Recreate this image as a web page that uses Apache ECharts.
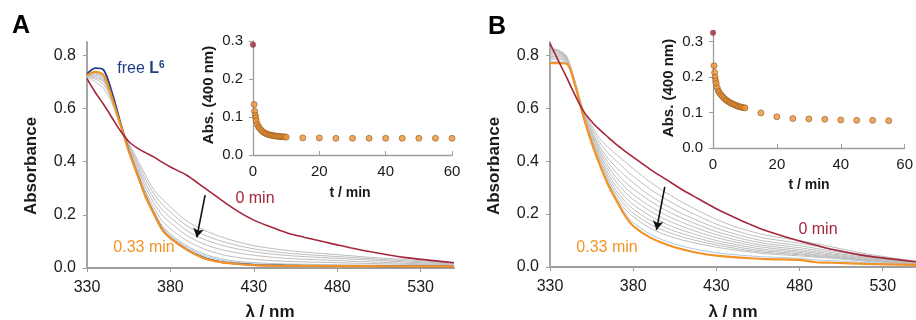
<!DOCTYPE html>
<html>
<head>
<meta charset="utf-8">
<script src="https://cdn.jsdelivr.net/npm/echarts@6/dist/echarts.min.js"></script>
<style>
  html, body { margin: 0; padding: 0; background: #fff; }
  #chart { width: 916px; height: 320px; }
</style>
</head>
<body>
<div id="chart"></div>
<script>
// wavelength grid (nm) shared by every spectrum
const WL = [330, 335, 340, 345, 350, 355, 360, 365, 370, 375, 380, 390, 400, 410, 420, 430, 440, 450, 460, 480, 490, 500, 520, 550];

// panel A spectra
const A_RED = [0.712, 0.66, 0.615, 0.565, 0.516, 0.476, 0.452, 0.434, 0.418, 0.398, 0.38, 0.348, 0.303, 0.258, 0.215, 0.18, 0.155, 0.132, 0.116, 0.087, 0.073, 0.061, 0.04, 0.02];
const A_BLUE = [0.73, 0.752, 0.745, 0.66, 0.548, 0.442, 0.356, 0.271, 0.206, 0.146, 0.113, 0.069, 0.039, 0.023, 0.016, 0.012, 0.01, 0.009, 0.008, 0.007, 0.007, 0.007, 0.006, 0.006];
const A_ORANGE = [0.725, 0.738, 0.725, 0.64, 0.54, 0.44, 0.355, 0.27, 0.205, 0.145, 0.112, 0.068, 0.037, 0.022, 0.015, 0.011, 0.009, 0.008, 0.008, 0.007, 0.007, 0.007, 0.006, 0.006];
const A_LIGHTBLUE = [0.726, 0.732, 0.718, 0.642, 0.54, 0.443, 0.36, 0.277, 0.212, 0.155, 0.122, 0.077, 0.047, 0.03, 0.021, 0.016, 0.014, 0.012, 0.011, 0.01, 0.01, 0.009, 0.008, 0.007];
const A_GREY = [
  [0.718, 0.70, 0.675, 0.62, 0.535, 0.47, 0.41, 0.35, 0.295, 0.26, 0.23, 0.176, 0.143, 0.118, 0.099, 0.084, 0.074, 0.066, 0.06, 0.05, 0.045, 0.04, 0.032, 0.018],
  [0.72, 0.71, 0.69, 0.63, 0.54, 0.465, 0.40, 0.335, 0.28, 0.24, 0.21, 0.158, 0.125, 0.102, 0.085, 0.072, 0.063, 0.056, 0.051, 0.043, 0.039, 0.035, 0.027, 0.016],
  [0.722, 0.715, 0.70, 0.635, 0.54, 0.46, 0.39, 0.32, 0.262, 0.22, 0.19, 0.14, 0.108, 0.087, 0.072, 0.061, 0.053, 0.047, 0.043, 0.036, 0.033, 0.03, 0.023, 0.014],
  [0.724, 0.72, 0.705, 0.64, 0.54, 0.455, 0.38, 0.305, 0.245, 0.20, 0.17, 0.122, 0.09, 0.07, 0.057, 0.048, 0.041, 0.036, 0.033, 0.028, 0.025, 0.023, 0.018, 0.012],
  [0.725, 0.725, 0.71, 0.64, 0.54, 0.45, 0.37, 0.29, 0.228, 0.178, 0.148, 0.102, 0.072, 0.052, 0.04, 0.033, 0.028, 0.025, 0.023, 0.02, 0.018, 0.017, 0.014, 0.01],
  [0.726, 0.73, 0.715, 0.64, 0.54, 0.445, 0.362, 0.28, 0.215, 0.16, 0.128, 0.083, 0.053, 0.035, 0.025, 0.02, 0.017, 0.015, 0.014, 0.012, 0.011, 0.011, 0.009, 0.008]
];

// panel B spectra
const B_RED = [0.845, 0.78, 0.716, 0.65, 0.59, 0.55, 0.518, 0.49, 0.462, 0.438, 0.415, 0.37, 0.33, 0.29, 0.255, 0.22, 0.19, 0.162, 0.137, 0.098, 0.082, 0.066, 0.042, 0.02];
const B_ORANGE = [0.77, 0.77, 0.768, 0.688, 0.57, 0.47, 0.385, 0.31, 0.25, 0.195, 0.155, 0.112, 0.085, 0.066, 0.052, 0.043, 0.037, 0.033, 0.03, 0.027, 0.018, 0.016, 0.012, 0.008];
const B_LIGHTBLUE = [0.775, 0.776, 0.77, 0.689, 0.571, 0.472, 0.387, 0.315, 0.256, 0.205, 0.168, 0.125, 0.097, 0.078, 0.064, 0.054, 0.047, 0.042, 0.038, 0.033, 0.027, 0.024, 0.017, 0.01];
const B_GREY = [
  [0.825, 0.82, 0.795, 0.70, 0.595, 0.535, 0.485, 0.452, 0.425, 0.398, 0.372, 0.322, 0.28, 0.243, 0.21, 0.18, 0.155, 0.136, 0.12, 0.10, 0.088, 0.075, 0.05, 0.022],
  [0.822, 0.818, 0.795, 0.70, 0.59, 0.525, 0.47, 0.43, 0.40, 0.37, 0.343, 0.295, 0.255, 0.22, 0.19, 0.162, 0.14, 0.122, 0.108, 0.09, 0.078, 0.067, 0.045, 0.02],
  [0.82, 0.816, 0.793, 0.70, 0.588, 0.515, 0.455, 0.41, 0.375, 0.345, 0.318, 0.27, 0.232, 0.20, 0.172, 0.147, 0.127, 0.11, 0.097, 0.081, 0.07, 0.06, 0.04, 0.018],
  [0.815, 0.812, 0.79, 0.70, 0.585, 0.508, 0.445, 0.395, 0.355, 0.322, 0.295, 0.25, 0.213, 0.183, 0.157, 0.134, 0.116, 0.10, 0.088, 0.073, 0.063, 0.054, 0.036, 0.017],
  [0.81, 0.808, 0.787, 0.698, 0.582, 0.50, 0.435, 0.38, 0.337, 0.302, 0.274, 0.23, 0.195, 0.167, 0.143, 0.122, 0.105, 0.091, 0.08, 0.066, 0.057, 0.049, 0.033, 0.016],
  [0.805, 0.805, 0.785, 0.697, 0.58, 0.494, 0.425, 0.366, 0.32, 0.283, 0.255, 0.212, 0.178, 0.152, 0.13, 0.111, 0.096, 0.083, 0.073, 0.06, 0.052, 0.045, 0.03, 0.015],
  [0.80, 0.80, 0.782, 0.695, 0.578, 0.488, 0.415, 0.352, 0.303, 0.265, 0.236, 0.194, 0.162, 0.138, 0.118, 0.10, 0.087, 0.075, 0.066, 0.055, 0.047, 0.041, 0.028, 0.014],
  [0.795, 0.795, 0.78, 0.694, 0.576, 0.483, 0.406, 0.34, 0.288, 0.248, 0.219, 0.177, 0.147, 0.125, 0.107, 0.091, 0.079, 0.068, 0.06, 0.05, 0.043, 0.038, 0.026, 0.013],
  [0.79, 0.79, 0.777, 0.692, 0.574, 0.478, 0.398, 0.33, 0.275, 0.234, 0.204, 0.162, 0.134, 0.113, 0.097, 0.083, 0.072, 0.062, 0.055, 0.046, 0.04, 0.035, 0.024, 0.012],
  [0.785, 0.785, 0.774, 0.69, 0.572, 0.474, 0.39, 0.32, 0.263, 0.22, 0.19, 0.148, 0.12, 0.101, 0.087, 0.075, 0.065, 0.057, 0.05, 0.042, 0.037, 0.033, 0.022, 0.011]
];

// insets: absorbance at 400 nm vs time (min)
const A_T = [0.33, 0.5, 0.67, 0.83, 1, 1.33, 1.67, 2, 2.5, 3, 3.5, 4, 4.5, 5, 5.5, 6, 6.5, 7, 7.5, 8, 8.5, 9, 9.5, 10, 15, 20, 25, 30, 35, 40, 45, 50, 55, 60];
const A_ABS = [0.133, 0.115, 0.105, 0.098, 0.09, 0.08, 0.074, 0.07, 0.065, 0.061, 0.058, 0.056, 0.054, 0.053, 0.052, 0.051, 0.05, 0.05, 0.049, 0.049, 0.048, 0.048, 0.048, 0.047, 0.045, 0.045, 0.044, 0.044, 0.044, 0.044, 0.044, 0.044, 0.044, 0.044];
const A_START = [0, 0.29];
const B_T = [0.33, 0.5, 0.67, 0.83, 1, 1.33, 1.67, 2, 2.5, 3, 3.5, 4, 4.5, 5, 5.5, 6, 6.5, 7, 7.5, 8, 8.5, 9, 9.5, 10, 15, 20, 25, 30, 35, 40, 45, 50, 55];
const B_ABS = [0.232, 0.213, 0.2, 0.19, 0.182, 0.17, 0.161, 0.156, 0.15, 0.145, 0.14, 0.136, 0.133, 0.13, 0.127, 0.125, 0.123, 0.121, 0.119, 0.117, 0.116, 0.115, 0.114, 0.113, 0.099, 0.088, 0.083, 0.082, 0.081, 0.079, 0.078, 0.078, 0.077];
const B_START = [0, 0.325];

// arrows (data coords: nm, absorbance)
const ARROW_A = [[400.8, 0.274], [395.8, 0.115]];
const ARROW_B = [[399, 0.303], [394, 0.14]];

// tick labels
const WL_TICKS = [330, 380, 430, 480, 530];
const ABS_TICKS = [0, 0.2, 0.4, 0.6, 0.8];
const T_TICKS = [0, 20, 40, 60];
const INSET_TICKS = [0, 0.1, 0.2, 0.3];

const FONT = '"Liberation Sans", Arial, sans-serif';
const AXIS_GREY = '#9d9d9d';
const RED = '#a3263b';
const ORANGE = '#f39226';
const BLUE = '#1f3e82';

const pairs = (xs, ys) => xs.map((x, i) => [x, ys[i]]);

function valueAxis(gridIndex, min, max, ticks, opts) {
  return {
    type: 'value',
    gridIndex,
    min,
    max,
    axisLine: { show: true, lineStyle: { color: AXIS_GREY, width: opts.lineWidth } },
    axisTick: { show: true, customValues: ticks, inside: !!opts.inside, length: 4, lineStyle: { color: AXIS_GREY, width: 1 } },
    axisLabel: {
      customValues: ticks,
      color: '#1a1a1a',
      fontSize: opts.fontSize,
      fontFamily: FONT,
      margin: opts.margin,
      formatter: opts.fmt
    },
    splitLine: { show: false }
  };
}

const fix1 = v => v.toFixed(1);
const plain = v => String(v);

function spectrum(xi, values, color, width, z, extra) {
  return Object.assign({
    type: 'line',
    xAxisIndex: xi,
    yAxisIndex: xi,
    data: pairs(WL, values),
    showSymbol: false,
    smooth: 0.3,
    lineStyle: { color, width },
    z,
    silent: true
  }, extra || {});
}

function arrow(points) {
  return {
    silent: true,
    symbol: ['none', 'arrow'],
    symbolSize: [8, 9],
    label: { show: false },
    lineStyle: { color: '#111', width: 1.6, type: 'solid' },
    data: [[{ coord: points[0] }, { coord: points[1] }]]
  };
}

function insetSeries(xi, ts, abs, start) {
  return [
    {
      type: 'scatter',
      xAxisIndex: xi,
      yAxisIndex: xi,
      data: pairs(ts, abs),
      symbolSize: 6,
      itemStyle: { color: '#ee9233', borderColor: '#8f5a22', borderWidth: 0.8 },
      z: 5
    },
    {
      type: 'scatter',
      xAxisIndex: xi,
      yAxisIndex: xi,
      data: [start],
      symbolSize: 6,
      itemStyle: { color: '#9c2a3c' },
      z: 6
    }
  ];
}

function text(x, y, str, size, color, weight, rotate) {
  return {
    type: 'text',
    x, y,
    rotation: rotate ? Math.PI / 2 : 0,
    style: {
      text: str,
      fill: color,
      font: (weight || 'normal') + ' ' + size + 'px ' + FONT,
      align: 'center',
      verticalAlign: 'middle'
    }
  };
}

const series = [];
A_GREY.forEach(g => series.push(spectrum(0, g, '#bdbdbd', 1, 2)));
series.push(spectrum(0, A_LIGHTBLUE, '#a9c8e3', 1, 3));
series.push(spectrum(0, A_BLUE, BLUE, 1.8, 4));
series.push(spectrum(0, A_ORANGE, ORANGE, 2.2, 5));
series.push(spectrum(0, A_RED, RED, 1.6, 6, { markLine: arrow(ARROW_A) }));
series.push(...insetSeries(1, A_T, A_ABS, A_START));

B_GREY.forEach(g => series.push(spectrum(2, g, '#bdbdbd', 1, 2)));
series.push(spectrum(2, B_LIGHTBLUE, '#a9c8e3', 1, 3));
series.push(spectrum(2, B_ORANGE, ORANGE, 2.2, 5));
series.push(spectrum(2, B_RED, RED, 1.6, 6, { markLine: arrow(ARROW_B) }));
series.push(...insetSeries(3, B_T, B_ABS, B_START));

const mainX = { lineWidth: 1.8, fontSize: 16, margin: 12, fmt: plain };
const mainY = { lineWidth: 1.8, fontSize: 16, margin: 11, fmt: fix1 };
const insetX = { lineWidth: 1.3, fontSize: 15, margin: 9, fmt: plain, inside: true };
const insetY = { lineWidth: 1.3, fontSize: 15, margin: 10, fmt: fix1 };

const option = {
  backgroundColor: '#fff',
  animation: false,
  grid: [
    { left: 87, top: 42, width: 367, height: 226 },
    { left: 253, top: 41, width: 199, height: 114 },
    { left: 550, top: 42, width: 366, height: 225 },
    { left: 713, top: 31, width: 197, height: 117 }
  ],
  xAxis: [
    valueAxis(0, 330, 550, WL_TICKS, mainX),
    valueAxis(1, 0, 60, T_TICKS, insetX),
    valueAxis(2, 330, 550, WL_TICKS, mainX),
    valueAxis(3, 0, 60, T_TICKS, insetX)
  ],
  yAxis: [
    valueAxis(0, 0, 0.85, ABS_TICKS, mainY),
    valueAxis(1, 0, 0.3, INSET_TICKS, insetY),
    valueAxis(2, 0, 0.85, ABS_TICKS, mainY),
    valueAxis(3, 0, 0.33, INSET_TICKS, insetY)
  ],
  series,
  graphic: [
    text(21, 26, 'A', 25, '#000', 'bold'),
    text(497, 27, 'B', 25, '#000', 'bold'),
    text(31, 166, 'Absorbance', 17, '#1a1a1a', 'bold', true),
    text(494, 166, 'Absorbance', 17, '#1a1a1a', 'bold', true),
    text(270, 312, 'λ / nm', 17, '#1a1a1a', 'bold'),
    text(733, 312, 'λ / nm', 17, '#1a1a1a', 'bold'),
    text(209, 95, 'Abs. (400 nm)', 15, '#1a1a1a', 'bold', true),
    text(669, 88, 'Abs. (400 nm)', 15, '#1a1a1a', 'bold', true),
    text(350, 193, 't / min', 14, '#1a1a1a', 'bold'),
    text(809, 185, 't / min', 14, '#1a1a1a', 'bold'),
    text(255, 199, '0 min', 16, RED),
    text(818, 230, '0 min', 16, RED),
    text(144, 248, '0.33 min', 16, ORANGE),
    text(607, 248, '0.33 min', 16, ORANGE),
    {
      type: 'text',
      x: 141, y: 69,
      style: {
        text: '{n|free }{b|L}{s|6}',
        align: 'center',
        verticalAlign: 'middle',
        rich: {
          n: { fontSize: 16, fontFamily: FONT, fill: BLUE, lineHeight: 18 },
          b: { fontSize: 16, fontFamily: FONT, fontWeight: 'bold', fill: BLUE, lineHeight: 18 },
          s: { fontSize: 10, fontFamily: FONT, fontWeight: 'bold', fill: BLUE, verticalAlign: 'top', lineHeight: 18 }
        }
      }
    }
  ]
};

const chart = echarts.init(document.getElementById('chart'));
chart.setOption(option);
</script>
</body>
</html>
